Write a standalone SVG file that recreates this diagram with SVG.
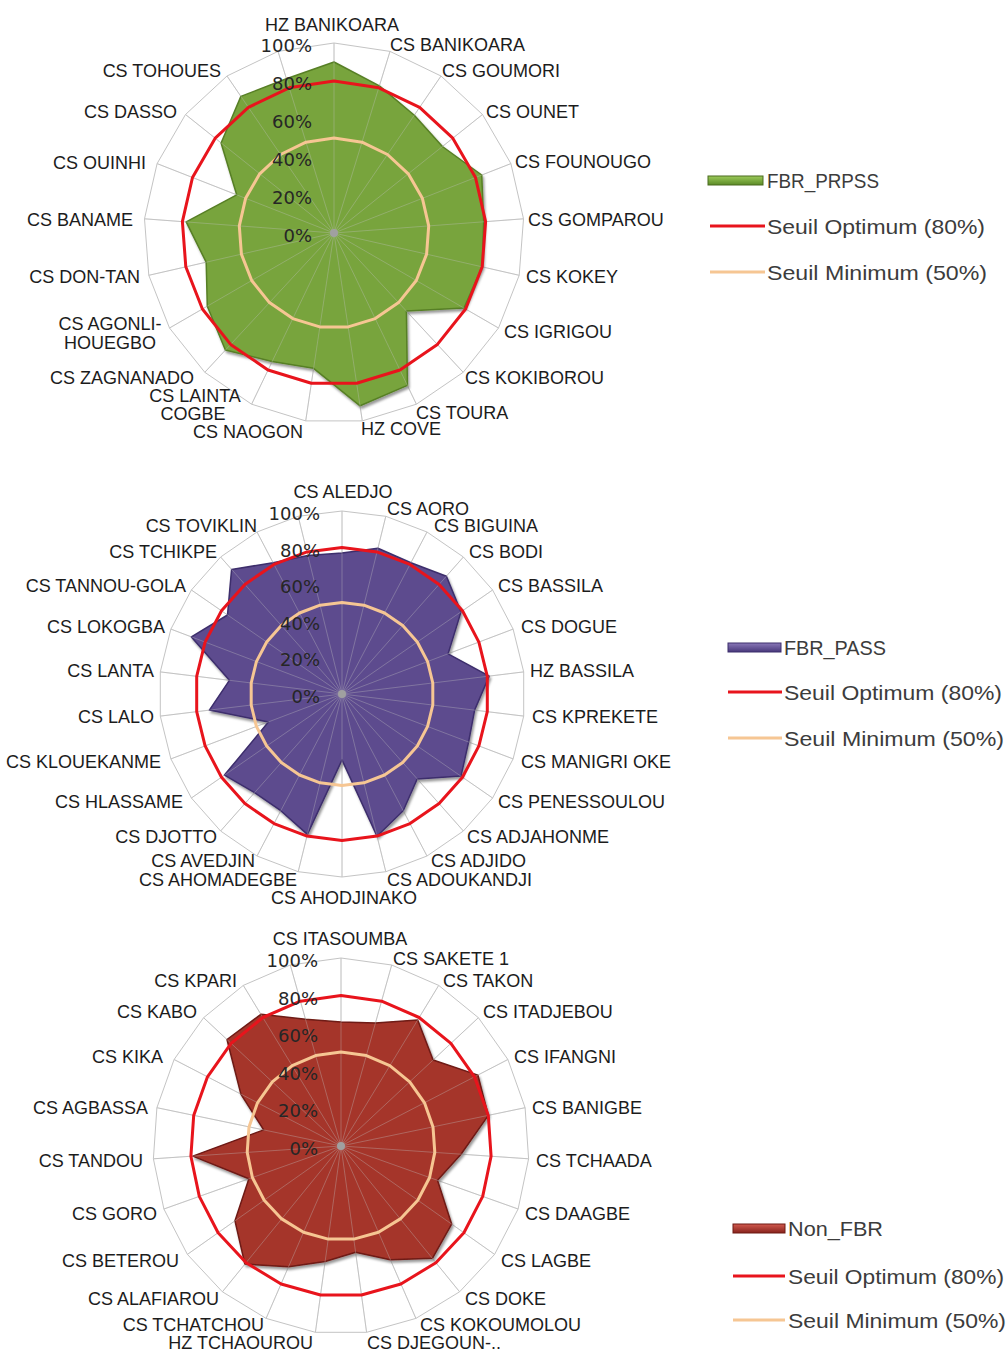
<svg xmlns="http://www.w3.org/2000/svg" width="1008" height="1352" viewBox="0 0 1008 1352">
<style>
.lbl{font-family:"Liberation Sans",Arial,sans-serif;font-size:18px;fill:#1c1c1c}
.e{text-anchor:end}.m{text-anchor:middle}
.pct{font-family:"DejaVu Sans",Verdana,sans-serif;font-size:18px;fill:#262626;text-anchor:end}
.leg{font-family:"Liberation Sans",Arial,sans-serif;font-size:21px;fill:#3c3c3c}
.grid{fill:none;stroke:#c4c4c4;stroke-width:1}
.spk{fill:none;stroke:#c4c4c4;stroke-width:1}
.spko{fill:none;stroke:#e0e0e0;stroke-width:1;opacity:0.35}
.opt{fill:none;stroke:#e8141c;stroke-width:3;stroke-linejoin:round}
.min{fill:none;stroke:#f6c693;stroke-width:3;stroke-linejoin:round}
.hub{fill:#a0a0a0}
</style>
<defs>
<filter id="sh" x="-10%" y="-10%" width="120%" height="120%">
<feDropShadow dx="1.5" dy="2.5" stdDeviation="1.2" flood-color="#000" flood-opacity="0.4"/>
</filter>
<linearGradient id="gG" x1="0" y1="0" x2="0" y2="1"><stop offset="0" stop-color="#9ccb5a"/><stop offset="1" stop-color="#5b8a26"/></linearGradient>
<linearGradient id="gP" x1="0" y1="0" x2="0" y2="1"><stop offset="0" stop-color="#8a78b8"/><stop offset="1" stop-color="#47377a"/></linearGradient>
<linearGradient id="gR" x1="0" y1="0" x2="0" y2="1"><stop offset="0" stop-color="#d25a4f"/><stop offset="1" stop-color="#86221c"/></linearGradient>
</defs>
<rect width="1008" height="1352" fill="#fff"/>

<!-- Chart 1 -->
<g id="chart1">
<polygon class="grid" points="334,43 390,51.4 441,76 482.5,114.5 510.9,163.6 523.5,218.8 519.2,275.3 498.5,328 463.2,372.3 416.4,404.2 362.3,420.9 305.7,420.9 251.6,404.2 204.8,372.3 169.5,328 148.8,275.3 144.5,218.8 157.1,163.6 185.5,114.5 227,76 278,51.4"/>
<path id="spokes1" class="spk" d="M334 233L334 43M334 233L390 51.4M334 233L441 76M334 233L482.5 114.5M334 233L510.9 163.6M334 233L523.5 218.8M334 233L519.2 275.3M334 233L498.5 328M334 233L463.2 372.3M334 233L416.4 404.2M334 233L362.3 420.9M334 233L305.7 420.9M334 233L251.6 404.2M334 233L204.8 372.3M334 233L169.5 328M334 233L148.8 275.3M334 233L144.5 218.8M334 233L157.1 163.6M334 233L185.5 114.5M334 233L227 76M334 233L278 51.4"/>
<polygon id="fbr_prpss" filter="url(#sh)" fill="#78a43c" stroke="#577f25" stroke-width="1.5" stroke-linejoin="round" points="334,62 379.4,85.9 414.3,115.3 442.4,146.5 481.7,175 483.7,221.8 482.2,266.8 464,308.1 406.4,311 407.4,385.4 360.1,405.8 313.6,368.3 272.2,361.4 225.4,350 207.3,306.2 206.2,262.2 186.2,221.9 236.7,194.8 221.1,143 240.9,96.4 286.4,78.7"/>
<use href="#spokes1" class="spko"/>
<circle class="hub" cx="334" cy="233" r="4"/>
<polygon class="opt" points="334,81 378.8,87.8 419.6,107.4 452.8,138.2 475.5,177.5 485.6,221.6 482.2,266.8 465.6,309 437.4,344.4 400,370 356.7,383.3 311.3,383.3 268,370 230.6,344.4 202.4,309 185.8,266.8 182.4,221.6 192.5,177.5 215.2,138.2 248.4,107.4 289.2,87.8"/>
<polygon class="min" points="334,138 362,142.2 387.5,154.5 408.3,173.8 422.4,198.3 428.7,225.9 426.6,254.1 416.3,280.5 398.6,302.6 375.2,318.6 348.2,326.9 319.8,326.9 292.8,318.6 269.4,302.6 251.7,280.5 241.4,254.1 239.3,225.9 245.6,198.3 259.7,173.8 280.5,154.5 306,142.2"/>
<g class="pct">
<text x="312" y="52">100%</text><text x="312" y="90">80%</text><text x="312" y="128">60%</text><text x="312" y="166">40%</text><text x="312" y="204">20%</text><text x="312" y="242">0%</text>
</g>
<g class="lbl">
<text class="m" x="332" y="31">HZ BANIKOARA</text>
<text x="390" y="51">CS BANIKOARA</text>
<text x="442" y="77">CS GOUMORI</text>
<text x="486" y="117.5">CS OUNET</text>
<text x="515" y="168">CS FOUNOUGO</text>
<text x="528" y="226">CS GOMPAROU</text>
<text x="526" y="283">CS KOKEY</text>
<text x="504" y="337.5">CS IGRIGOU</text>
<text x="465" y="384">CS KOKIBOROU</text>
<text x="416" y="418.5">CS TOURA</text>
<text x="361" y="435">HZ COVE</text>
<text class="e" x="303" y="438">CS NAOGON</text>
<text class="m" x="195" y="402">CS LAINTA</text>
<text class="m" x="193" y="420">COGBE</text>
<text class="e" x="194" y="384">CS ZAGNANADO</text>
<text class="m" x="110" y="329.5">CS AGONLI-</text>
<text class="m" x="110" y="349">HOUEGBO</text>
<text class="e" x="140" y="283">CS DON-TAN</text>
<text class="e" x="133" y="226">CS BANAME</text>
<text class="e" x="146" y="168.5">CS OUINHI</text>
<text class="e" x="177" y="117.5">CS DASSO</text>
<text class="e" x="221" y="77">CS TOHOUES</text>
</g>
</g>
<g id="legend1">
<rect x="708" y="176" width="55" height="9" fill="url(#gG)" stroke="#4a6b1f" stroke-width="1"/>
<text class="leg" x="767" y="187.5" textLength="112" lengthAdjust="spacingAndGlyphs">FBR_PRPSS</text>
<line x1="710" y1="226" x2="765" y2="226" stroke="#e8141c" stroke-width="3"/>
<text class="leg" x="767" y="233.5" textLength="218" lengthAdjust="spacingAndGlyphs">Seuil Optimum (80%)</text>
<line x1="710" y1="272" x2="765" y2="272" stroke="#f6c693" stroke-width="3"/>
<text class="leg" x="767" y="279.5" textLength="220" lengthAdjust="spacingAndGlyphs">Seuil Minimum (50%)</text>
</g>

<!-- Chart 2 -->
<g id="chart2">
<polygon class="grid" points="342,511 385.8,516.3 427,532 463.4,557 492.6,590 513.1,629.1 523.7,671.9 523.7,716.1 513.1,758.9 492.6,798 463.4,831 427,856 385.8,871.7 342,877 298.2,871.7 257,856 220.6,831 191.4,798 170.9,758.9 160.3,716.1 160.3,671.9 170.9,629.1 191.4,590 220.6,557 257,532 298.2,516.3"/>
<path id="spokes2" class="spk" d="M342 694L342 511M342 694L385.8 516.3M342 694L427 532M342 694L463.4 557M342 694L492.6 590M342 694L513.1 629.1M342 694L523.7 671.9M342 694L523.7 716.1M342 694L513.1 758.9M342 694L492.6 798M342 694L463.4 831M342 694L427 856M342 694L385.8 871.7M342 694L342 877M342 694L298.2 871.7M342 694L257 856M342 694L220.6 831M342 694L191.4 798M342 694L170.9 758.9M342 694L160.3 716.1M342 694L160.3 671.9M342 694L170.9 629.1M342 694L191.4 590M342 694L220.6 557M342 694L257 532M342 694L298.2 516.3"/>
<polygon id="fbr_pass" filter="url(#sh)" fill="#5d4b8e" stroke="#3d2e6c" stroke-width="1.5" stroke-linejoin="round" points="342,553.1 377.9,548.3 410.9,562.8 446.4,576.2 461,611.9 448.1,653.8 489.2,676.1 474.6,710.1 468.6,742 461,776.1 417.2,778.9 403.2,810.7 377,836.2 342,759.9 307.4,834.4 280.8,810.7 254.6,792.6 224.5,775.1 268.4,721.9 209.4,710.1 229.4,680.3 191.4,636.9 227.5,615 231.6,569.4 273.1,562.8 307.8,555.4"/>
<use href="#spokes2" class="spko"/>
<circle class="hub" cx="342" cy="694" r="4"/>
<polygon class="opt" points="342,547.6 377,551.9 410,564.4 439.1,584.4 462.5,610.8 478.9,642.1 487.3,676.4 487.3,711.6 478.9,745.9 462.5,777.2 439.1,803.6 410,823.6 377,836.1 342,840.4 307,836.1 274,823.6 244.9,803.6 221.5,777.2 205.1,745.9 196.7,711.6 196.7,676.4 205.1,642.1 221.5,610.8 244.9,584.4 274,564.4 307,551.9"/>
<polygon class="min" points="342,602.5 363.9,605.2 384.5,613 402.7,625.5 417.3,642 427.6,661.6 432.8,683 432.8,705 427.6,726.4 417.3,746 402.7,762.5 384.5,775 363.9,782.8 342,785.5 320.1,782.8 299.5,775 281.3,762.5 266.7,746 256.4,726.4 251.2,705 251.2,683 256.4,661.6 266.7,642 281.3,625.5 299.5,613 320.1,605.2"/>
<g class="pct">
<text x="320" y="520">100%</text><text x="320" y="556.6">80%</text><text x="320" y="593.2">60%</text><text x="320" y="629.8">40%</text><text x="320" y="666.4">20%</text><text x="320" y="703">0%</text>
</g>
<g class="lbl">
<text class="m" x="343" y="498">CS ALEDJO</text>
<text x="387" y="515">CS AORO</text>
<text x="434" y="531.5">CS BIGUINA</text>
<text x="469" y="558">CS BODI</text>
<text x="498" y="591.5">CS BASSILA</text>
<text x="521" y="633">CS DOGUE</text>
<text x="530" y="676.5">HZ BASSILA</text>
<text x="532" y="723">CS KPREKETE</text>
<text x="521" y="768">CS MANIGRI OKE</text>
<text x="498" y="808">CS PENESSOULOU</text>
<text x="467" y="843">CS ADJAHONME</text>
<text x="431" y="867">CS ADJIDO</text>
<text x="387" y="885.5">CS ADOUKANDJI</text>
<text class="m" x="344" y="904">CS AHODJINAKO</text>
<text class="e" x="297" y="885.5">CS AHOMADEGBE</text>
<text class="e" x="255" y="867">CS AVEDJIN</text>
<text class="e" x="217" y="843">CS DJOTTO</text>
<text class="e" x="183" y="808">CS HLASSAME</text>
<text class="e" x="161" y="768">CS KLOUEKANME</text>
<text class="e" x="154" y="723">CS LALO</text>
<text class="e" x="154" y="676.5">CS LANTA</text>
<text class="e" x="165" y="633">CS LOKOGBA</text>
<text class="e" x="186" y="591.5">CS TANNOU-GOLA</text>
<text class="e" x="217" y="558">CS TCHIKPE</text>
<text class="e" x="257" y="531.5">CS TOVIKLIN</text>
</g>
</g>
<g id="legend2">
<rect x="728" y="643" width="53" height="9" fill="url(#gP)" stroke="#3d2e6c" stroke-width="1"/>
<text class="leg" x="784" y="654.5" textLength="102" lengthAdjust="spacingAndGlyphs">FBR_PASS</text>
<line x1="728" y1="692" x2="782" y2="692" stroke="#e8141c" stroke-width="3"/>
<text class="leg" x="784" y="699.5" textLength="218" lengthAdjust="spacingAndGlyphs">Seuil Optimum (80%)</text>
<line x1="728" y1="738" x2="782" y2="738" stroke="#f6c693" stroke-width="3"/>
<text class="leg" x="784" y="745.5" textLength="220" lengthAdjust="spacingAndGlyphs">Seuil Minimum (50%)</text>
</g>

<!-- Chart 3 -->
<g id="chart3">
<polygon class="grid" points="341,958 391.7,965 438.7,985.4 478.4,1017.7 507.9,1059.5 525.1,1107.7 528.6,1158.8 518.1,1209 494.6,1254.4 459.6,1291.8 415.9,1318.4 366.6,1332.3 315.4,1332.3 266.1,1318.4 222.4,1291.8 187.4,1254.4 163.9,1209 153.4,1158.8 156.9,1107.7 174.1,1059.5 203.6,1017.7 243.3,985.4 290.3,965"/>
<path id="spokes3" class="spk" d="M341 1146L341 958M341 1146L391.7 965M341 1146L438.7 985.4M341 1146L478.4 1017.7M341 1146L507.9 1059.5M341 1146L525.1 1107.7M341 1146L528.6 1158.8M341 1146L518.1 1209M341 1146L494.6 1254.4M341 1146L459.6 1291.8M341 1146L415.9 1318.4M341 1146L366.6 1332.3M341 1146L315.4 1332.3M341 1146L266.1 1318.4M341 1146L222.4 1291.8M341 1146L187.4 1254.4M341 1146L163.9 1209M341 1146L153.4 1158.8M341 1146L156.9 1107.7M341 1146L174.1 1059.5M341 1146L203.6 1017.7M341 1146L243.3 985.4M341 1146L290.3 965"/>
<polygon id="non_fbr" filter="url(#sh)" fill="#a5352c" stroke="#6e1a14" stroke-width="1.5" stroke-linejoin="round" points="341,1021.9 375.5,1022.9 417.7,1019.9 433.1,1060 477.9,1075.1 488.3,1115.4 461,1154.2 437.5,1180.3 451.6,1224.1 432.4,1258.3 390.4,1259.8 355.6,1252.2 325.1,1261.5 288.6,1266.7 244.9,1264.1 235,1220.8 248.9,1178.7 192.8,1156.1 263.7,1129.9 240.9,1094.1 227,1039.5 260.9,1014.3 305.5,1019.3"/>
<use href="#spokes3" class="spko"/>
<circle class="hub" cx="341" cy="1146" r="4"/>
<polygon class="opt" points="341,995.6 381.6,1001.2 419.1,1017.5 450.9,1043.3 474.5,1076.8 488.3,1115.4 491.1,1156.3 482.7,1196.4 463.9,1232.7 435.9,1262.7 400.9,1284 361.5,1295 320.5,1295 281.1,1284 246.1,1262.7 218.1,1232.7 199.3,1196.4 190.9,1156.3 193.7,1115.4 207.5,1076.8 231.1,1043.3 262.9,1017.5 300.4,1001.2"/>
<polygon class="min" points="341,1052 366.4,1055.5 389.8,1065.7 409.7,1081.8 424.5,1102.8 433,1126.9 434.8,1152.4 429.6,1177.5 417.8,1200.2 400.3,1218.9 378.5,1232.2 353.8,1239.1 328.2,1239.1 303.5,1232.2 281.7,1218.9 264.2,1200.2 252.4,1177.5 247.2,1152.4 249,1126.9 257.5,1102.8 272.3,1081.8 292.2,1065.7 315.6,1055.5"/>
<g class="pct">
<text x="318" y="967">100%</text><text x="318" y="1004.6">80%</text><text x="318" y="1042.2">60%</text><text x="318" y="1079.8">40%</text><text x="318" y="1117.4">20%</text><text x="318" y="1155">0%</text>
</g>
<g class="lbl">
<text class="m" x="340" y="945">CS ITASOUMBA</text>
<text x="393" y="965">CS SAKETE 1</text>
<text x="443" y="986.5">CS TAKON</text>
<text x="483" y="1018">CS ITADJEBOU</text>
<text x="514" y="1063">CS IFANGNI</text>
<text x="532" y="1114">CS BANIGBE</text>
<text x="536" y="1166.5">CS TCHAADA</text>
<text x="525" y="1220">CS DAAGBE</text>
<text x="501" y="1266.5">CS LAGBE</text>
<text x="465" y="1305">CS DOKE</text>
<text x="420" y="1330.5">CS KOKOUMOLOU</text>
<text x="367" y="1349">CS DJEGOUN-..</text>
<text class="e" x="313" y="1349">HZ TCHAOUROU</text>
<text class="e" x="264" y="1330.5">CS TCHATCHOU</text>
<text class="e" x="219" y="1305">CS ALAFIAROU</text>
<text class="e" x="179" y="1266.5">CS BETEROU</text>
<text class="e" x="157" y="1220">CS GORO</text>
<text class="e" x="143" y="1166.5">CS TANDOU</text>
<text class="e" x="148" y="1114">CS AGBASSA</text>
<text class="e" x="163" y="1063">CS KIKA</text>
<text class="e" x="197" y="1018">CS KABO</text>
<text class="e" x="237" y="986.5">CS KPARI</text>
</g>
</g>
<g id="legend3">
<rect x="733" y="1224" width="52" height="9" fill="url(#gR)" stroke="#6e1a14" stroke-width="1"/>
<text class="leg" x="788" y="1235.5" textLength="95" lengthAdjust="spacingAndGlyphs">Non_FBR</text>
<line x1="733" y1="1276" x2="785" y2="1276" stroke="#e8141c" stroke-width="3"/>
<text class="leg" x="788" y="1283.5" textLength="216" lengthAdjust="spacingAndGlyphs">Seuil Optimum (80%)</text>
<line x1="733" y1="1320" x2="785" y2="1320" stroke="#f6c693" stroke-width="3"/>
<text class="leg" x="788" y="1327.5" textLength="218" lengthAdjust="spacingAndGlyphs">Seuil Minimum (50%)</text>
</g>
</svg>
